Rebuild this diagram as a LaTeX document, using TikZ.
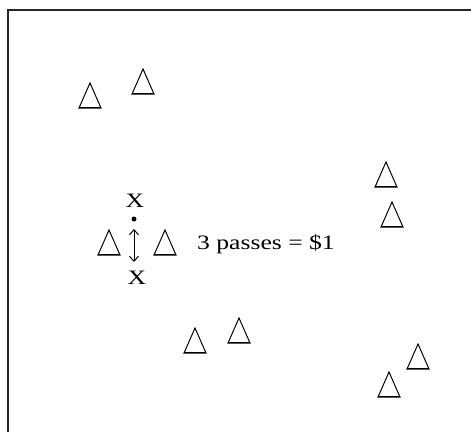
\documentclass[tikz,border=0pt]{standalone}
\usepackage{fontspec}
\newfontfamily\screenfont[FakeStretch=1.25]{Liberation Serif}
\usetikzlibrary{arrows.meta}
\tikzset{cone/.pic = {
    \coordinate (-apex) at (0,0);
    \draw [line width=1pt, line join=miter] (-apex) -- (-11,25) -- (11,25) -- cycle;
    \draw [line width=1pt] (-11,24.5) -- (11,24.5);}}
\begin{document}
\begin{tikzpicture}[x=1pt, y=-1pt,
    sign/.style = {font=\screenfont\fontsize{20.5}{24}\selectfont, inner sep=0pt}]
    \useasboundingbox (0,0) rectangle (471,432);
    \draw [line width=2pt, black!85] (8,432) -- (8,10) -- (471,10);
    % cones on the field
    \pic (c1) at (90,83) {cone};
    \pic (c2) at (143,69) {cone};
    \pic (c3) at (109,230) {cone};
    \pic (c4) at (165,230) {cone};
    \pic (c5) at (195,328) {cone};
    \pic (c6) at (239,318) {cone};
    \pic (c7) at (386,162) {cone};
    \pic (c8) at (392,202) {cone};
    \pic (c9) at (418,344) {cone};
    \pic (c10) at (389,372) {cone};
    % players and the ball
    \node [sign] (xtop) at (135,201) {X};
    \node [sign] (xbot) at (137,278) {X};
    \node [circle, fill=black, inner sep=0pt, minimum size=5pt] (ball) at (134,219) {};
    \coordinate (ptop) at (134,229);
    \coordinate (pbot) at (134,262);
    \draw [{Straight Barb[length=5pt,width=9pt]}-{Straight Barb[length=5pt,width=9pt]}, line width=1pt] (ptop) -- (pbot);
    \node [sign, anchor=base west] (price) at (197,249) {3 passes = \$1};
\end{tikzpicture}
\end{document}
